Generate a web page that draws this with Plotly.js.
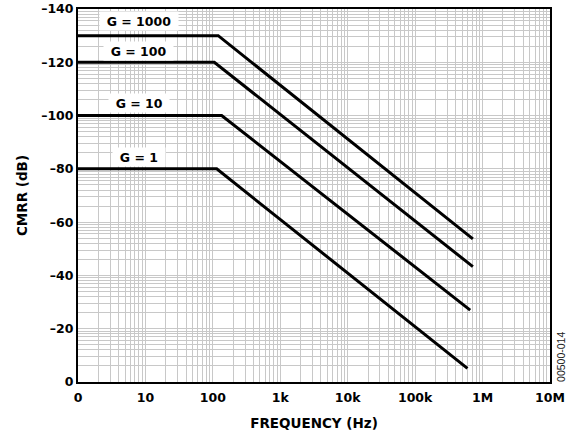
<!DOCTYPE html>
<html>
<head>
<meta charset="utf-8">
<script src="https://cdn.plot.ly/plotly-3.0.1.min.js"></script>
<style>html,body{margin:0;padding:0;background:#fff;}#chart{width:576px;height:435px;}</style>
</head>
<body>
<div id="chart"></div>
<script>
// Data (frequency in Hz, CMRR in dB)
const seriesNames = ["G = 1000", "G = 100", "G = 10", "G = 1"];
const freqG1000 = [1, 120, 718000];
const cmrrG1000 = [-130, -130, -53.7];
const freqG100 = [1, 105, 718000];
const cmrrG100 = [-120, -120, -43.3];
const freqG10 = [1, 135, 655000];
const cmrrG10 = [-100, -100, -27];
const freqG1 = [1, 114, 597000];
const cmrrG1 = [-80, -80, -5.1];
const xTickVals = [1, 10, 100, 1e3, 1e4, 1e5, 1e6, 1e7];
const xTickText = ["0", "10", "100", "1k", "10k", "100k", "1M", "10M"];
const yTickVals = [0, -20, -40, -60, -80, -100, -120, -140];
const yTickText = ["0", "–20", "–40", "–60", "–80", "–100", "–120", "–140"];
const labelFreq = 8;          // label centre frequency (Hz)
const labelY = [-135.5, -124.2, -104.7, -84.5];

const freqs = [freqG1000, freqG100, freqG10, freqG1];
const cmrrs = [cmrrG1000, cmrrG100, cmrrG10, cmrrG1];

const traces = freqs.map((f, i) => ({
  x: f, y: cmrrs[i], type: "scatter", mode: "lines", name: seriesNames[i],
  line: {color: "#000", width: 3}, showlegend: false, hoverinfo: "skip"
}));

// log-paper style minor grid
const xMinor = [];
for (let d = 0; d < 7; d++) for (let k = 2; k <= 9; k++) xMinor.push(k * Math.pow(10, d));
const yMinor = [];
for (let b = 0; b > -140; b -= 20) for (let k = 2; k <= 9; k++) yMinor.push(b - 20 * Math.log10(k));

const gridCol = "#c8c8c8";
const FAM = "DejaVu Sans, Liberation Sans, Arial, sans-serif";
const tickFont = {family: FAM, size: 12.5, color: "#000", weight: "bold"};

const annotations = seriesNames.map((n, i) => ({
  x: Math.log10(labelFreq), xref: "x", y: labelY[i], yref: "y", text: "<b>" + n + "</b>", showarrow: false,
  font: {family: FAM, size: 12.5, color: "#000"},
  bgcolor: "#fff", borderpad: 1, width: 29 + (n.length - 4) * 8.7 + 12, height: 16, xanchor: "center", yanchor: "middle"
}));
annotations.push({
  x: 1.0, xref: "paper", xshift: 11, xanchor: "center", y: -9.4, yref: "y", yanchor: "middle",
  text: "00500-014", showarrow: false,
  textangle: -90, font: {family: "Liberation Sans, Arial, sans-serif", size: 10.5, color: "#222"}
});

const layout = {
  width: 576, height: 435,
  margin: {l: 78, r: 26, t: 9, b: 53},
  paper_bgcolor: "#fff", plot_bgcolor: "#fff",
  xaxis: {
    type: "log", range: [0, 7],
    tickmode: "array", tickvals: xTickVals, ticktext: xTickText.map(t => "<b>" + t + "</b>"),
    tickfont: tickFont, ticks: "", ticklabelstandoff: 3,
    showgrid: true, gridcolor: gridCol, gridwidth: 1,
    minor: {tickmode: "array", tickvals: xMinor, showgrid: true, gridcolor: gridCol, gridwidth: 1, ticks: ""},
    showline: true, linecolor: "#000", linewidth: 2, mirror: true, zeroline: false,
    title: {text: "<b>FREQUENCY (Hz)</b>", font: {family: FAM, size: 13.5, color: "#000"}, standoff: 15}
  },
  yaxis: {
    range: [0, -140],
    tickmode: "array", tickvals: yTickVals, ticktext: yTickText.map(t => "<b>" + t + "</b>"),
    tickfont: tickFont, ticks: "",
    showgrid: true, gridcolor: gridCol, gridwidth: 1,
    minor: {tickmode: "array", tickvals: yMinor, showgrid: true, gridcolor: gridCol, gridwidth: 1, ticks: ""},
    showline: true, linecolor: "#000", linewidth: 2, mirror: true, zeroline: false,
    title: {text: "<b>CMRR (dB)</b>", font: {family: FAM, size: 13.5, color: "#000"}, standoff: 10}
  },
  annotations: annotations
};

Plotly.newPlot("chart", traces, layout, {displayModeBar: false, staticPlot: true});
</script>
</body>
</html>
